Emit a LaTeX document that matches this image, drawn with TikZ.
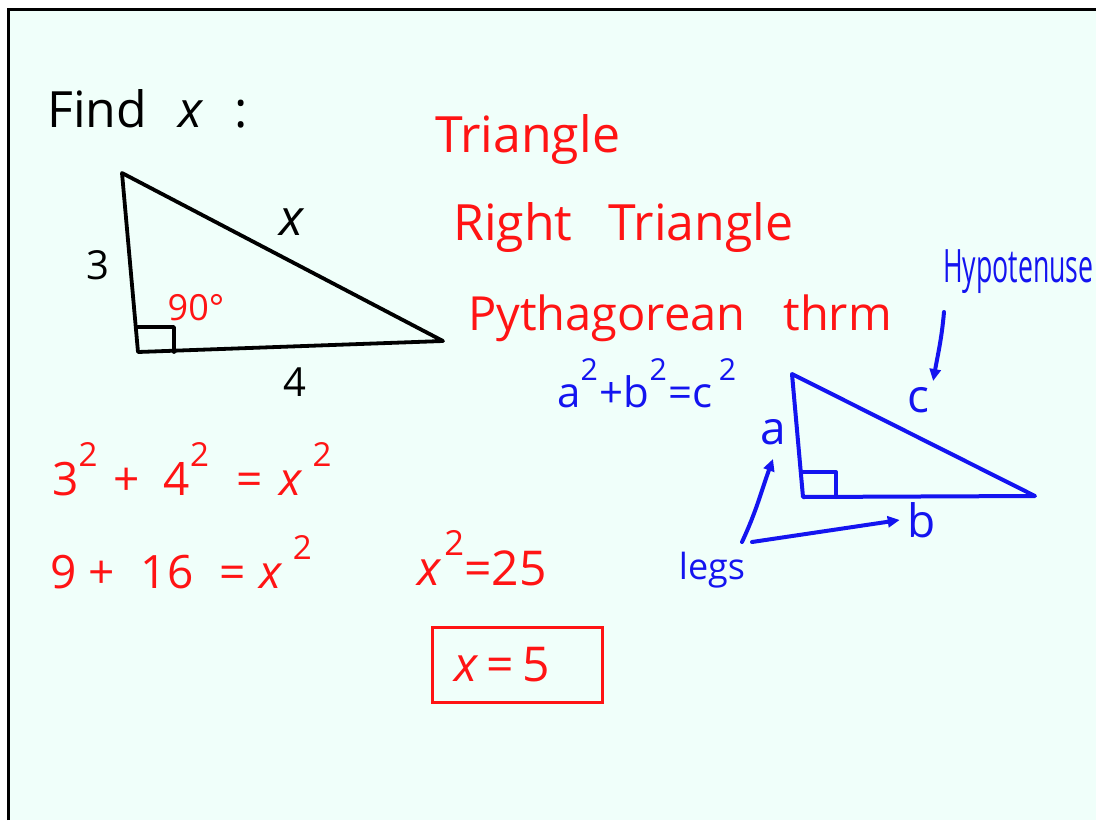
\documentclass[tikz,border=0pt]{standalone}
\usepackage{fontspec}
\setmainfont{Open Sans}
\definecolor{board}{HTML}{F0FFFA}
\definecolor{penred}{HTML}{FF1414}
\definecolor{penblue}{HTML}{1414F0}
\usetikzlibrary{arrows.meta,positioning}
\tikzset{
  pen/.style={line width=3.8pt, line cap=round, line join=round},
  blackpen/.style={pen, draw=black},
  bluepen/.style={pen, draw=penblue, line width=4pt},
  hand/.style={inner sep=0pt, font=\fontsize{50}{56}\selectfont},
  redtxt/.style={hand, text=penred},
  bluetxt/.style={hand, text=penblue},
  blacktxt/.style={hand, text=black},
  answer/.style={
    rectangle, draw=penred, line width=3pt,
    minimum width=170pt, minimum height=75pt
  },
  arr/.style={-{Triangle[length=12pt,width=11pt]}},
}
\newcommand\sqd{\raisebox{0.62em}{\scalebox{0.72}{2}}}
\newcommand\xv{\textit{x}}

\begin{document}
\begin{tikzpicture}[x=1pt, y=-1pt]
  \useasboundingbox (0,0) rectangle (1096,820);
  \fill[board] (8,9) rectangle (1096,820);
  \draw[line width=3pt] (8,820) -- (8,9) -- (1096,9);

  \node[blacktxt, anchor=base west, font=\fontsize{50}{56}\selectfont]
    (find) at (47,127) {Find\hspace{32pt}\xv\hspace{30pt}:};

  % Problem triangle
  \coordinate (A) at (122,173);
  \coordinate (B) at (138,352);
  \coordinate (C) at (443,341);
  \draw[blackpen] (A) -- (B) -- (C) -- cycle;
  \draw[blackpen] ([yshift=25pt]B) -| ([xshift=36pt]B);
  \node[blacktxt, font=\fontsize{40}{40}\selectfont] (leg3) at (98,265) {3};
  \node[blacktxt, font=\fontsize{50}{40}\selectfont] (hypx) at (292,222) {\xv};
  \node[blacktxt, font=\fontsize{40}{40}\selectfont] (leg4) at (295,382) {4};
  \node[redtxt, font=\fontsize{36}{40}\selectfont] (deg) at (196,308) {90°};

  % Headings
  \node[redtxt, anchor=base west] (tri) at (435,152) {Triangle};
  \node[redtxt, anchor=base west] (right) at (453,240) {Right\hspace{36pt}Triangle};
  \node[redtxt, anchor=base west, font=\fontsize{47}{52}\selectfont]
    (pyth) at (468,330) {Pythagorean\hspace{38pt}thrm};

  % Theorem sketch
  \node[bluetxt, anchor=base west, font=\fontsize{42}{46}\selectfont]
    (law) at (557,407) {a\sqd\hspace{2pt}+b\sqd\hspace{2pt}=c\hspace{6pt}\sqd};
  \node[bluetxt, anchor=base west]
    (hyp) at (943,282) {\scalebox{0.58}[1]{\fontsize{46}{50}\selectfont Hypotenuse}};
  \coordinate (D) at (792,374);
  \coordinate (E) at (803,497);
  \coordinate (F) at (1035,496);
  \draw[bluepen] (D) -- (E) -- (F) -- cycle;
  \draw[bluepen] ([yshift=25pt]E) -| ([xshift=33pt]E);
  \node[bluetxt, font=\fontsize{46}{44}\selectfont] (c) at (918,400) {c};
  \node[bluetxt, font=\fontsize{46}{44}\selectfont] (a) at (773,432) {a};
  \node[bluetxt, font=\fontsize{46}{44}\selectfont] (b) at (922,520) {b};
  \node[bluetxt, font=\fontsize{36}{40}\selectfont] (legs) at (712,570) {legs};
  \coordinate (hyptail) at (944,312);
  \coordinate (legtail) at (742,542);

  % Arrows
  \draw[bluepen, arr] (hyptail) to[out=-95, in=80] ([shift={(4pt,6pt)}]c.north east);
  \draw[bluepen, arr] (legtail) to[out=65, in=-110] ([yshift=-14pt]a.south);
  \draw[bluepen, arr] ([xshift=10pt]legtail) -- ([xshift=-8pt]b.west);

  % Working
  \node[redtxt, anchor=base west, font=\fontsize{46}{50}\selectfont]
    (sum) at (52,495)
    {3\sqd\hspace{16pt}+\hspace{24pt}4\sqd\hspace{28pt}=\hspace{16pt}\xv\hspace{10pt}\sqd};
  \node[redtxt, anchor=base west, font=\fontsize{46}{50}\selectfont]
    (add) at (50,588)
    {9\hspace{12pt}+\hspace{26pt}16\hspace{26pt}=\hspace{14pt}\xv\hspace{10pt}\sqd};
  \node[redtxt, anchor=base west, font=\fontsize{48}{50}\selectfont]
    (val) at (417,585) {\xv\hspace{3pt}\sqd=25};
  \node[redtxt, answer, font=\fontsize{48}{50}\selectfont]
    (res) at (517,665) {\xv\,=\,5\hspace{30pt}\null};

\end{tikzpicture}
\end{document}
